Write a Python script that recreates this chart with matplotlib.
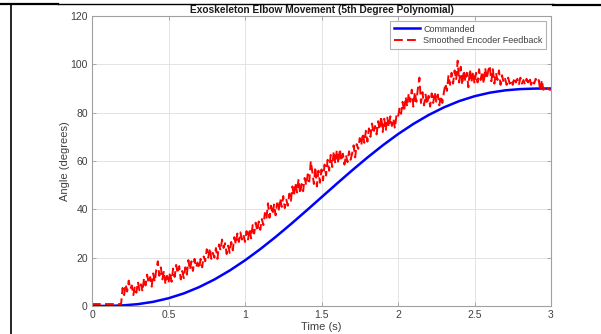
import numpy as np
import matplotlib
matplotlib.use('Agg')
import matplotlib.pyplot as plt
from matplotlib.lines import Line2D

plt.rcParams['font.family'] = ['Liberation Sans', 'DejaVu Sans']

# commanded trajectory, read every 0.1 s
cmd_time = [0.0, 0.1, 0.2, 0.3, 0.4, 0.5, 0.6, 0.7, 0.8, 0.9, 1.0,
            1.1, 1.2, 1.3, 1.4, 1.5, 1.6, 1.7, 1.8, 1.9, 2.0,
            2.1, 2.2, 2.3, 2.4, 2.5, 2.6, 2.7, 2.8, 2.9, 3.0]
cmd_angle = [0.0, 0.03, 0.24, 0.77, 1.73, 3.20, 5.21, 7.81, 10.97, 14.68, 18.89,
             23.54, 28.57, 33.88, 39.39, 45.0, 50.61, 56.12, 61.43, 66.46, 71.11,
             75.32, 79.03, 82.19, 84.79, 86.80, 88.27, 89.23, 89.76, 89.97, 90.0]

# smoothed encoder feedback, read every 0.01 s
enc_time = [round(0.01 * i, 2) for i in range(301)]
enc_angle = [
    0.8, 0.8, 0.8, 0.8, 0.8, 0.8, 0.8, 0.8, 0.8, 0.8,
    0.8, 0.8, 0.8, 0.8, 0.8, 0.8, 0.8, 0.8, 0.8, 0.8,
    7.5, 4.5, 9.0, 6.0, 10.5, 7.0, 8.5, 4.5, 8.0, 5.5,
    10.0, 6.5, 9.0, 6.0, 11.5, 8.5, 13.0, 9.5, 12.0, 8.0,
    13.5, 10.0, 15.0, 18.5, 12.5, 16.0, 11.0, 14.5, 9.0, 12.5,
    9.5, 14.0, 10.0, 15.5, 12.0, 17.0, 13.5, 16.5, 11.0, 14.5,
    11.5, 16.0, 13.0, 19.0, 15.0, 18.5, 14.5, 19.5, 16.0, 18.0,
    15.5, 19.5, 16.0, 20.5, 18.5, 23.5, 20.0, 24.0, 19.5, 22.0,
    20.0, 24.0, 19.5, 25.5, 23.0, 27.5, 24.0, 26.0, 21.5, 25.0,
    22.0, 26.5, 23.0, 28.5, 25.5, 30.0, 26.5, 30.5, 27.5, 29.5,
    26.5, 31.0, 27.5, 32.0, 28.0, 33.5, 30.0, 34.5, 31.0, 35.0,
    31.5, 36.0, 33.5, 38.5, 36.0, 42.5, 36.5, 41.5, 38.0, 42.0,
    37.5, 42.5, 39.5, 44.5, 41.0, 45.5, 40.5, 44.0, 41.5, 46.5,
    43.5, 49.5, 45.5, 51.0, 47.0, 52.5, 46.5, 50.5, 47.5, 53.0,
    50.0, 54.5, 51.5, 60.0, 55.5, 50.5, 57.5, 49.5, 56.0, 51.0,
    56.5, 52.0, 58.5, 54.0, 60.5, 56.0, 62.5, 57.5, 64.0, 59.0,
    64.5, 59.0, 65.0, 60.0, 63.0, 58.5, 62.5, 59.5, 64.0, 60.5,
    63.0, 66.5, 61.5, 67.0, 65.0, 69.5, 66.5, 71.5, 67.5, 72.5,
    68.0, 73.5, 70.0, 75.5, 71.5, 74.5, 71.0, 76.5, 73.0, 78.5,
    72.0, 77.5, 72.5, 78.0, 74.0, 78.5, 74.5, 77.5, 73.5, 79.0,
    78.0, 82.0, 79.5, 84.5, 80.5, 86.5, 82.5, 88.0, 84.5, 89.5,
    82.5, 88.5, 84.5, 90.0, 94.5, 84.0, 88.5, 83.0, 87.5, 83.5,
    87.0, 82.5, 88.0, 84.0, 88.5, 84.5, 87.5, 83.0, 87.0, 84.0,
    88.5, 92.0, 89.0, 95.5, 91.5, 96.5, 92.0, 97.5, 93.5, 101.5,
    92.5, 99.0, 91.5, 97.5, 93.0, 96.5, 90.5, 98.0, 92.5, 97.0,
    92.0, 96.5, 92.5, 98.0, 93.5, 97.0, 92.0, 98.5, 94.0, 97.5,
    99.5, 93.0, 98.0, 92.0, 96.5, 93.5, 97.5, 91.5, 95.5, 92.5,
    94.0, 91.5, 94.5, 92.0, 93.5, 91.5, 94.5, 92.5, 94.0, 91.5,
    94.5, 92.0, 93.5, 91.5, 94.0, 92.5, 94.5, 91.5, 93.5, 92.0,
    94.0, 92.5, 93.5, 89.0, 93.5, 89.5, 90.0, 89.0, 90.0, 89.5,
    89.5,
]

fig = plt.figure(figsize=(6.01, 3.34), dpi=100, facecolor='white')
ax = fig.add_axes([92 / 601, 1 - 306 / 334, (551 - 92) / 601, (306 - 16) / 334])

ax.plot(cmd_time, cmd_angle, color='#0000ff', lw=1.8, label='Commanded')
ax.plot(enc_time, enc_angle, color='#ff0000', lw=1.4, linestyle=(0, (4.5, 2.2)),
        label='Smoothed Encoder Feedback')

ax.set_xlim(0, 3)
ax.set_ylim(0, 120)
ax.set_xticks([0, 0.5, 1, 1.5, 2, 2.5, 3])
ax.set_xticklabels(['0', '0.5', '1', '1.5', '2', '2.5', '3'])
ax.set_yticks([0, 20, 40, 60, 80, 100, 120])

ax.grid(True, color='#e3e3e3', lw=0.7)
ax.set_axisbelow(True)
for s in ax.spines.values():
    s.set_color('#a0a0a0')
    s.set_linewidth(0.8)
ax.tick_params(direction='in', length=3, width=0.6, colors='#a0a0a0',
               labelcolor='#404040', labelsize=7.5, top=True, right=True, pad=3)

ax.set_title('Exoskeleton Elbow Movement (5th Degree Polynomial)', fontsize=7.3,
             fontweight='bold', color='#1a1a1a', pad=2)
ax.set_xlabel('Time (s)', fontsize=8, color='#404040', labelpad=1)
ax.set_ylabel('Angle (degrees)', fontsize=8, color='#404040', labelpad=0)

leg = ax.legend(loc='upper right', fontsize=6.5, frameon=True, fancybox=False,
                handlelength=2.9, borderpad=0.45, labelspacing=0.3,
                handletextpad=0.3, borderaxespad=0.5)
leg.get_frame().set_edgecolor('#a0a0a0')
leg.get_frame().set_linewidth(0.8)
for t in leg.get_texts():
    t.set_color('#404040')

# page border lines around the screenshot
W, H = 601, 334
fig.add_artist(Line2D([0, 58 / W], [1 - 4 / H, 1 - 4 / H], color='black', lw=1.6,
                      transform=fig.transFigure))
fig.add_artist(Line2D([58 / W, 553 / W], [1 - 4 / H, 1 - 4 / H], color='black', lw=1.0,
                      transform=fig.transFigure))
fig.add_artist(Line2D([553 / W, 1], [1 - 5 / H, 1 - 5 / H], color='black', lw=1.6,
                      transform=fig.transFigure))
fig.add_artist(Line2D([11 / W, 11 / W], [0, 1 - 4 / H], color='black', lw=1.2,
                      transform=fig.transFigure))

fig.savefig('out.png', dpi=100, facecolor='white')
